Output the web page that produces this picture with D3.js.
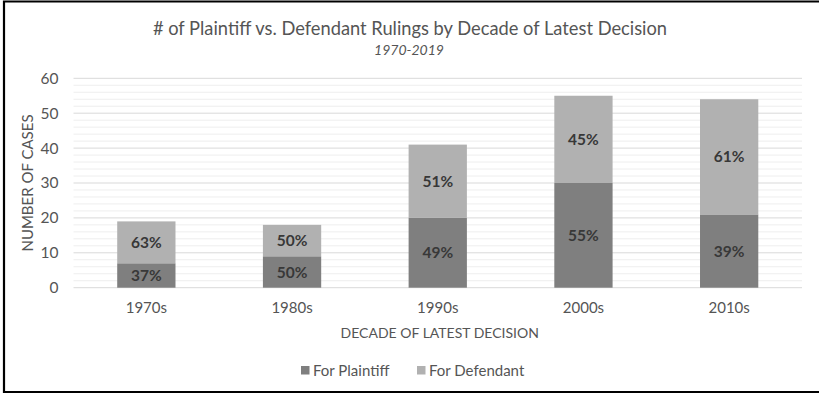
<!DOCTYPE html>
<html>
<head>
<meta charset="utf-8">
<script src="https://cdn.jsdelivr.net/npm/d3@7"></script>
<style>
  html, body { margin: 0; padding: 0; background: #fff; }
  svg { display: block; }
  text { font-family: Lato, "Open Sans", "Noto Sans", sans-serif; }
</style>
</head>
<body>
<svg id="chart" width="819" height="393"></svg>
<script>
// Rulings per decade of latest decision
const decades = ["1970s", "1980s", "1990s", "2000s", "2010s"];
const forPlaintiff = [7, 9, 20, 30, 21];
const forDefendant = [12, 9, 21, 25, 33];
const yTicks = [0, 10, 20, 30, 40, 50, 60];
const seriesNames = ["For Plaintiff", "For Defendant"];
const seriesColors = ["#7f7f7f", "#b1b1b1"];

const svg = d3.select("#chart");
const plot = { left: 73.5, right: 802, top: 78.3, bottom: 287.7 };
const cx = 410;
const textColor = "#555555";

// frame
svg.append("path")
  .attr("d", `M819,1.5 H4 V392 H819`)
  .attr("fill", "none").attr("stroke", "#000").attr("stroke-width", 2.2);

const x = d3.scaleBand().domain(decades)
  .range([plot.left, plot.right]).paddingInner(0.6).paddingOuter(0.3);
const y = d3.scaleLinear().domain([0, 60]).range([plot.bottom, plot.top]);

// gridlines: minor every 2, major every 10
const minor = d3.range(0, 61, 2).filter(v => v % 10 !== 0);
svg.append("g").selectAll("line").data(minor).join("line")
  .attr("x1", plot.left).attr("x2", plot.right)
  .attr("y1", d => y(d)).attr("y2", d => y(d))
  .attr("stroke", "#eeeeee").attr("stroke-width", 1);
svg.append("g").selectAll("line").data(yTicks).join("line")
  .attr("x1", plot.left).attr("x2", plot.right)
  .attr("y1", d => y(d)).attr("y2", d => y(d))
  .attr("stroke", "#d9d9d9").attr("stroke-width", 1);

// stacked bars
const rows = decades.map((d, i) => ({ decade: d, plaintiff: forPlaintiff[i], defendant: forDefendant[i] }));
const stack = d3.stack().keys(["plaintiff", "defendant"])(rows);
const layers = svg.append("g").selectAll("g").data(stack).join("g")
  .attr("fill", (d, i) => seriesColors[i]);
layers.selectAll("rect").data(d => d).join("rect")
  .attr("x", d => x(d.data.decade))
  .attr("width", x.bandwidth())
  .attr("y", d => y(d[1]))
  .attr("height", d => y(d[0]) - y(d[1]));

// percentage labels
layers.selectAll("text").data(d => d).join("text")
  .attr("x", d => x(d.data.decade) + x.bandwidth() / 2)
  .attr("y", d => (y(d[0]) + y(d[1])) / 2)
  .attr("dy", "0.36em")
  .attr("text-anchor", "middle")
  .attr("font-size", 15.5).attr("font-weight", 700).attr("fill", "#383838")
  .text(d => {
    const total = d.data.plaintiff + d.data.defendant;
    return Math.round((d[1] - d[0]) / total * 100) + "%";
  });

// y axis
const yAxis = svg.append("g").attr("transform", `translate(${plot.left - 15},0)`)
  .call(d3.axisLeft(y).tickValues(yTicks).tickSize(0).tickPadding(0));
yAxis.select(".domain").remove();
yAxis.selectAll("text").attr("font-size", 15.5).attr("fill", textColor)
  .attr("font-family", "Lato, 'Open Sans', sans-serif");

// x axis
const xAxis = svg.append("g").attr("transform", `translate(0,${plot.bottom})`)
  .call(d3.axisBottom(x).tickSize(0).tickPadding(15));
xAxis.select(".domain").remove();
xAxis.selectAll("text").attr("font-size", 15).attr("fill", textColor)
  .attr("font-family", "Lato, 'Open Sans', sans-serif");

// titles
svg.append("text").attr("x", cx).attr("y", 35).attr("text-anchor", "middle")
  .attr("font-size", 18.3).attr("fill", textColor)
  .text("# of Plaintiff vs. Defendant Rulings by Decade of Latest Decision");
svg.append("text").attr("x", cx - 1).attr("y", 55).attr("text-anchor", "middle")
  .attr("font-size", 14).attr("font-style", "italic").attr("fill", textColor)
  .text("1970-2019");

svg.append("text")
  .attr("transform", `translate(33,${(plot.top + plot.bottom) / 2}) rotate(-90)`)
  .attr("text-anchor", "middle").attr("font-size", 15).attr("fill", textColor)
  .text("NUMBER OF CASES");
svg.append("text").attr("x", (plot.left + plot.right) / 2 + 2).attr("y", 338)
  .attr("text-anchor", "middle").attr("font-size", 14).attr("fill", textColor)
  .text("DECADE OF LATEST DECISION");

// legend
const legend = svg.append("g").attr("transform", "translate(301,366)");
const legendX = [0, 116];
seriesNames.forEach((name, i) => {
  const g = legend.append("g").attr("transform", `translate(${legendX[i]},0)`);
  g.append("rect").attr("width", 8.5).attr("height", 8.5).attr("fill", seriesColors[i]);
  g.append("text").attr("x", 12).attr("y", 9.5).attr("font-size", 15).attr("fill", textColor).text(name);
});
</script>
</body>
</html>
